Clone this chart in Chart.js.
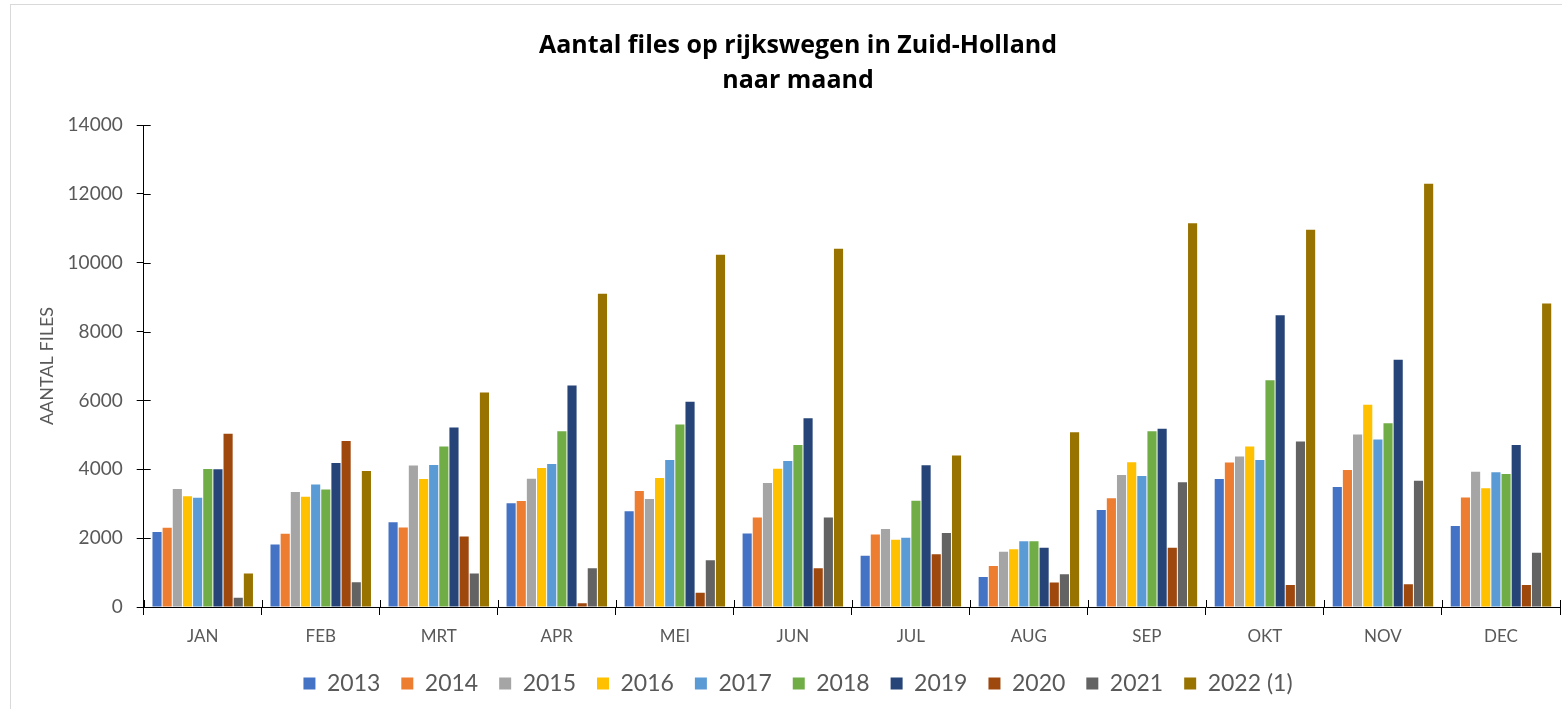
<!DOCTYPE html>
<html>
<head>
<meta charset="utf-8">
<script src="https://cdn.jsdelivr.net/npm/chart.js@4.4.1/dist/chart.umd.min.js"></script>
<style>
  html, body { margin: 0; padding: 0; background: #fff; }
  #wrap { position: absolute; left: 0; top: 0; width: 1562px; height: 709px; }
  #frame { position: absolute; left: 10px; top: 4px; width: 1600px; height: 800px; border: 1px solid #d9d9d9; box-sizing: border-box; }
  canvas { position: absolute; left: 0; top: 0; }
</style>
</head>
<body>
<div id="wrap">
  <div id="frame"></div>
  <canvas id="c" width="1562" height="709"></canvas>
</div>
<script>
const months = ["JAN","FEB","MRT","APR","MEI","JUN","JUL","AUG","SEP","OKT","NOV","DEC"];
const seriesLabels = ["2013","2014","2015","2016","2017","2018","2019","2020","2021","2022 (1)"];
const seriesColors = ["#4472C4","#ED7D31","#A5A5A5","#FFC000","#5B9BD5","#70AD47","#264478","#9E480E","#636363","#997300"];

const v2013 = [2180,1815,2460,3010,2780,2136,1485,874,2816,3718,3485,2350];
const v2014 = [2300,2125,2310,3078,3369,2602,2107,1194,3160,4194,3981,3184];
const v2015 = [3430,3340,4107,3728,3136,3602,2262,1602,3835,4369,5010,3932];
const v2016 = [3215,3200,3718,4039,3748,4019,1951,1680,4204,4660,5874,3447];
const v2017 = [3175,3555,4126,4155,4272,4243,2010,1913,3806,4272,4864,3913];
const v2018 = [4010,3410,4660,5107,5301,4709,3087,1913,5107,6583,5340,3864];
const v2019 = [4000,4185,5214,6437,5961,5485,4117,1718,5175,8476,7184,4709];
const v2020 = [5030,4825,2050,107,417,1126,1534,709,1718,641,660,641];
const v2021 = [270,720,970,1126,1359,2602,2146,951,3621,4806,3670,1573];
const v2022 = [970,3950,6233,9097,10233,10408,4398,5078,11146,10961,12291,8816];

const yTicks = [0,2000,4000,6000,8000,10000,12000,14000];

const allValues = [v2013,v2014,v2015,v2016,v2017,v2018,v2019,v2020,v2021,v2022];

const datasets = allValues.map((vals, i) => ({
  label: seriesLabels[i],
  data: vals,
  backgroundColor: seriesColors[i],
  borderWidth: 0,
  categoryPercentage: 0.86,
  barPercentage: 0.9
}));

const FONT = "Lato, 'Open Sans', sans-serif";
const TFONT = "'Open Sans', Lato, sans-serif";

// draws the inner half of the "cross" tick marks, positioned via the chart's own scales
const crossTicks = {
  id: 'crossTicks',
  afterDatasetsDraw(chart) {
    const { ctx, scales: { x, y } } = chart;
    ctx.save();
    ctx.strokeStyle = '#000';
    ctx.lineWidth = 1;
    ctx.beginPath();
    y.ticks.forEach(t => {
      const py = Math.round(y.getPixelForValue(t.value)) + 0.5;
      ctx.moveTo(x.left, py);
      ctx.lineTo(x.left + 7, py);
    });
    for (let i = 0; i <= months.length; i++) {
      const px = Math.round(x.getPixelForValue(i - 0.5)) + 0.5;
      ctx.moveTo(px, y.bottom);
      ctx.lineTo(px, y.bottom - 7);
    }
    ctx.stroke();
    ctx.restore();
  }
};

new Chart(document.getElementById('c'), {
  type: 'bar',
  data: { labels: months, datasets },
  plugins: [crossTicks],
  options: {
    responsive: false,
    animation: false,
    devicePixelRatio: 1,
    layout: { padding: { left: 36, right: 2, top: 28, bottom: 4 } },
    plugins: {
      title: {
        display: true,
        text: ["Aantal files op rijkswegen in Zuid-Holland", "naar maand"],
        color: "#000",
        font: { family: TFONT, size: 25, weight: 'bold', lineHeight: 1.4 },
        padding: { top: 0, bottom: 27 }
      },
      legend: {
        position: 'bottom',
        labels: {
          color: "#595959",
          font: { family: FONT, size: 23 },
          boxWidth: 12,
          boxHeight: 12,
          padding: 21
        }
      },
      tooltip: { enabled: false }
    },
    scales: {
      x: {
        offset: true,
        afterFit: (s) => { s.height = 44; },
        grid: {
          display: true,
          offset: true,
          drawOnChartArea: false,
          drawTicks: true,
          tickLength: 8,
          color: "#000",
          lineWidth: 1
        },
        border: { display: true, color: "#000", width: 1 },
        ticks: { color: "#595959", font: { family: FONT, size: 17 }, padding: 11 }
      },
      y: {
        min: 0,
        max: 14000,
        afterBuildTicks: (axis) => { axis.ticks = yTicks.map(v => ({ value: v })); },
        grid: {
          display: true,
          drawOnChartArea: false,
          drawTicks: true,
          tickLength: 7,
          color: "#000"
        },
        border: { display: true, color: "#000", width: 1 },
        ticks: {
          color: "#595959",
          font: { family: FONT, size: 19 },
          padding: 14,
          callback: (v) => String(v)
        },
        title: {
          display: true,
          text: "AANTAL FILES",
          color: "#595959",
          font: { family: FONT, size: 18 },
          padding: { top: 0, bottom: -4 }
        }
      }
    }
  }
});
</script>
</body>
</html>
